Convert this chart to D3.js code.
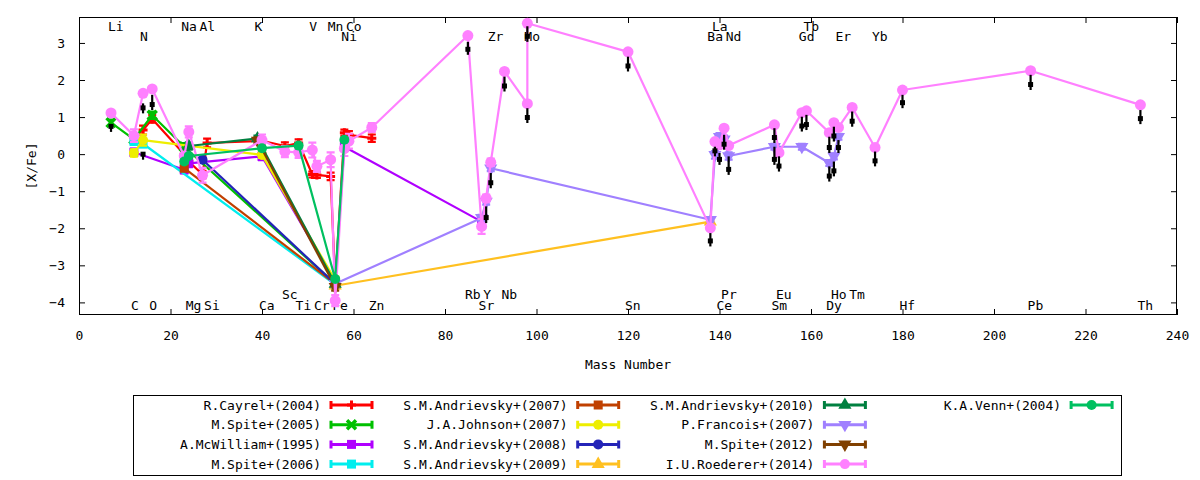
<!DOCTYPE html>
<html><head><meta charset="utf-8">
<script src="https://cdn.jsdelivr.net/npm/d3@7"></script>
<style>
body{margin:0;background:#fff}
text{font-family:"DejaVu Sans Mono",monospace;font-size:13px;fill:#000}
</style>
</head><body>
<svg id="c" width="1200" height="480"></svg>
<script>
// ---------- data: [mass number, [X/Fe], error] ----------
const cayrel = [[12,0.45,0.1],[14,0.65,0.12],[16,0.95,0.1],[23,0.0,0.1],[24,-0.2,0.1],[27,-0.55,0.1],[28,0.3,0.12],[40,0.36,0.08],[45,0.22,0.1],[48,0.3,0.1],[51,-0.55,0.08],[52,-0.56,0.08],[55,-0.6,0.1],[56,-3.5,0.1],[58,0.58,0.08],[59,0.52,0.1],[64,0.43,0.1]];
const spite05 = [[7,0.85,0.08],[12,0.4,0.1],[16,1.05,0.1],[23,0.2,0.1],[56,-3.5,0.1]];
const mcwilliam = [[12,0.05,0.1],[23,-0.42,0.1],[24,-0.25,0.1],[40,-0.06,0.1],[56,-3.45,0.1],[58,0.2,0.1],[88,-1.82,0.1]];
const spite06 = [[12,0.35,0.1],[14,0.28,0.1],[56,-3.52,0.1]];
const andr07 = [[23,-0.38,0.08],[56,-3.5,0.1]];
const johnson = [[12,0.03,0.1],[14,0.38,0.15],[40,-0.02,0.08],[56,-3.4,0.1]];
const andr08 = [[27,-0.15,0.05],[56,-3.5,0.1]];
const andr09 = [[56,-3.55,0.1],[138,-1.82,0.05]];
const andr10 = [[24,0.22,0.1],[39,0.42,0.08],[56,-3.5,0.1]];
const francois = [[56,-3.5,0.1],[88,-1.72,0.08],[89,-1.28,0.08],[90,-0.38,0.08],[138,-1.77,0.05],[139,-0.02,0.1],[140,0.47,0.1],[141,0.4,0.1],[142,-0.05,0.1],[152,0.2,0.08],[158,0.2,0.08],[164,-0.24,0.08],[165,-0.06,0.08],[166,0.47,0.08]];
const spite12 = [[39,0.37,0.08],[56,-3.58,0.1]];
const roederer = [[7,1.11,0.05],[12,0.5,0.17],[14,1.64,0.05],[16,1.76,0.05],[23,-0.05,0.05],[24,0.6,0.15],[27,-0.57,0.2],[40,0.38,0.15],[45,0.07,0.15],[48,0.05,0.15],[51,0.11,0.2],[52,-0.33,0.15],[55,-0.15,0.2],[56,-3.95,0.15],[58,0.15,0.2],[59,0.35,0.2],[64,0.72,0.12],[85,3.2,0],[88,-1.95,0.2],[89,-1.19,0.1],[90,-0.22,0.1],[93,2.23,0],[98,1.36,0],[98,3.53,0],[120,2.76,0],[138,-1.99,0.05],[139,0.34,0],[140,0.25,0],[141,0.7,0],[142,0.23,0],[152,0.79,0],[153,0.04,0],[158,1.12,0],[159,1.17,0],[164,0.58,0],[165,0.85,0],[166,0.72,0],[169,1.26,0],[174,0.18,0],[180,1.73,0],[208,2.25,0],[232,1.33,0]];
const venn = [[23,-0.2,0.05],[24,-0.05,0.05],[40,0.16,0.05],[48,0.23,0.05],[56,-3.37,0.05],[58,0.39,0.05]];

// upper limits: [mass number, top, bottom]
const limits = [[7,0.78,0.6],[14,1.37,1.1],[14,0.03,-0.15],[16,1.6,1.19],[85,3.03,2.68],[89,-1.41,-1.86],[90,-0.51,-0.92],[93,2.09,1.69],[98,3.45,3.03],[98,1.24,0.84],[120,2.63,2.23],[138,-2.13,-2.49],[139,0.2,-0.06],[140,0.03,-0.29],[141,0.52,0.12],[142,-0.06,-0.56],[152,0.7,0.3],[152,0.2,-0.29],[153,-0.06,-0.47],[158,1.01,0.61],[159,1.06,0.65],[164,0.47,0.03],[164,-0.33,-0.74],[165,0.74,0.34],[165,-0.2,-0.6],[166,0.38,0.03],[169,1.15,0.74],[174,0.07,-0.33],[180,1.6,1.24],[208,2.14,1.73],[232,1.19,0.81]];

const seriesNames = ["R.Cayrel+(2004)","M.Spite+(2005)","A.McWilliam+(1995)","M.Spite+(2006)","S.M.Andrievsky+(2007)","J.A.Johnson+(2007)","S.M.Andrievsky+(2008)","S.M.Andrievsky+(2009)","S.M.Andrievsky+(2010)","P.Francois+(2007)","M.Spite+(2012)","I.U.Roederer+(2014)","K.A.Venn+(2004)"];
const seriesData = [cayrel,spite05,mcwilliam,spite06,andr07,johnson,andr08,andr09,andr10,francois,spite12,roederer,venn];

// element labels [symbol, mass number]
const labelsTop1 = [["Li",7],["Na",23],["Al",27],["K",39],["V",51],["Mn",55],["Co",59],["La",139],["Tb",159]];
const labelsTop2 = [["N",14],["Ni",58],["Zr",90],["Mo",98],["Ba",138],["Nd",142],["Gd",158],["Er",166],["Yb",174]];
const labelsBot1 = [["Sc",45],["Rb",85],["Y",89],["Nb",93],["Pr",141],["Eu",153],["Ho",165],["Tm",169]];
const labelsBot2 = [["C",12],["O",16],["Mg",24],["Si",28],["Ca",40],["Ti",48],["Cr",52],["Fe",56],["Zn",64],["Sr",88],["Sn",120],["Ce",140],["Sm",152],["Dy",164],["Hf",180],["Pb",208],["Th",232]];

const xTickValues = [0,20,40,60,80,100,120,140,160,180,200,220,240];
const yTickValues = [-4,-3,-2,-1,0,1,2,3];

// ---------- styles ----------
const seriesColors = ["#ff0000","#00c000","#b000ff","#00eeee","#c04000","#eeee00","#2424b8","#ffc020","#008040","#a080ff","#804000","#ff80ff","#00c060"];
const seriesShapes = ["plus","x","square","square","square","circle","circle","tri","tri","tridown","tridown","circle","circle"];

const L=79,R=1177,T=17,B=315;
const svg = d3.select("#c");
const x = d3.scaleLinear().domain([0,240]).range([L,R]);
const y = d3.scaleLinear().domain([-4.34,3.7]).range([B,T]);

svg.append("defs").append("clipPath").attr("id","clip")
  .append("rect").attr("x",L).attr("y",T).attr("width",R-L).attr("height",B-T);

// axes
const ax = svg.append("g");
ax.append("g").attr("transform",`translate(0,${B})`)
  .call(d3.axisBottom(x).tickValues(xTickValues).tickSize(-6).tickPadding(16))
  .call(g=>g.select(".domain").remove());
ax.append("g").attr("transform",`translate(0,${T})`)
  .call(d3.axisTop(x).tickValues(xTickValues).tickSize(-6).tickFormat(""))
  .call(g=>g.select(".domain").remove());
ax.append("g").attr("transform",`translate(${L},0)`)
  .call(d3.axisLeft(y).tickValues(yTickValues).tickSize(-6).tickPadding(14))
  .call(g=>g.select(".domain").remove());
ax.append("g").attr("transform",`translate(${R},0)`)
  .call(d3.axisRight(y).tickValues(yTickValues).tickSize(-6).tickFormat(""))
  .call(g=>g.select(".domain").remove());
ax.selectAll("text").style("font-family","DejaVu Sans Mono").style("font-size","13px");
ax.selectAll("line").attr("stroke","#000");

svg.append("rect").attr("x",L+0.5).attr("y",T+0.5).attr("width",R-L-1).attr("height",B-T-1)
  .attr("fill","none").attr("stroke","#000").attr("stroke-width",1);

svg.append("text").attr("x",(L+R)/2).attr("y",369).attr("text-anchor","middle").text("Mass Number");
svg.append("text").attr("transform","translate(36,166) rotate(-90)").attr("text-anchor","middle").text("[X/Fe]");

// element labels
const lab = svg.append("g");
function addLabels(arr, yy){
  lab.selectAll(null).data(arr).enter().append("text")
    .attr("x",d=>x(d[1])-3).attr("y",yy).text(d=>d[0]);
}
addLabels(labelsTop1, T+14);
addLabels(labelsTop2, T+23.5);
addLabels(labelsBot1, B-16.5);
addLabels(labelsBot2, B-5);

// marker drawing
function marker(g, shape, color, cx, cy, big){
  const s = big ? 1.1 : 1;
  if(shape==="plus"){
    g.append("path").attr("d",`M${cx-4.5},${cy}H${cx+4.5}M${cx},${cy-4.5}V${cy+4.5}`)
      .attr("stroke",color).attr("stroke-width",3).attr("fill","none");
  } else if(shape==="x"){
    g.append("path").attr("d",`M${cx-4.5},${cy-4.5}L${cx+4.5},${cy+4.5}M${cx-4.5},${cy+4.5}L${cx+4.5},${cy-4.5}`)
      .attr("stroke",color).attr("stroke-width",3.5).attr("fill","none");
  } else if(shape==="square"){
    g.append("rect").attr("x",cx-4.5).attr("y",cy-4.5).attr("width",9).attr("height",9).attr("fill",color);
  } else if(shape==="circle"){
    g.append("circle").attr("cx",cx).attr("cy",cy).attr("r",5*s).attr("fill",color);
  } else if(shape==="tri"){
    g.append("path").attr("d",d3.symbol(d3.symbolTriangle,75)()).attr("transform",`translate(${cx},${cy})`).attr("fill",color);
  } else if(shape==="tridown"){
    g.append("path").attr("d",d3.symbol(d3.symbolTriangle,75)()).attr("transform",`translate(${cx},${cy}) rotate(180)`).attr("fill",color);
  }
}

// series
const plot = svg.append("g").attr("clip-path","url(#clip)");
const line = d3.line().x(d=>x(d[0])).y(d=>y(d[1]));
seriesData.forEach((data,i)=>{
  const col = seriesColors[i];
  const g = plot.append("g");
  g.append("path").datum(data).attr("d",line).attr("fill","none")
    .attr("stroke",col).attr("stroke-width",2.2).attr("stroke-linejoin","round");
  data.forEach(d=>{
    if(d[2]>0){
      const px=x(d[0]), y1=y(d[1]+d[2]), y2=y(d[1]-d[2]);
      g.append("path").attr("d",`M${px},${y1}V${y2}M${px-4},${y1}H${px+4}M${px-4},${y2}H${px+4}`)
        .attr("stroke",col).attr("stroke-width",2.2).attr("fill","none");
    }
  });
  data.forEach(d=>marker(g, seriesShapes[i], col, x(d[0]), y(d[1]), i===11));
});

// upper-limit arrows
const lim = plot.append("g");
limits.forEach(d=>{
  const px=x(d[0]), yt=y(d[1]), yb=y(d[2]);
  lim.append("line").attr("x1",px).attr("x2",px).attr("y1",yt).attr("y2",yb)
    .attr("stroke","#000").attr("stroke-width",2.2);
  lim.append("rect").attr("x",px-2.5).attr("y",yb-8).attr("width",5).attr("height",5).attr("fill","#000");
});

// legend
const lg = svg.append("g");
lg.append("rect").attr("x",133.5).attr("y",395.5).attr("width",988).attr("height",80)
  .attr("fill","none").attr("stroke","#000").attr("stroke-width",1);
seriesNames.forEach((name,i)=>{
  const col=Math.floor(i/4), row=i%4;
  const te = 321 + col*246.7;
  const cy = 405 + row*19.7;
  const x1 = te+9, x2 = x1+43;
  lg.append("text").attr("x",te).attr("y",cy+4.5).attr("text-anchor","end").text(name);
  lg.append("path").attr("d",`M${x1},${cy}H${x2}M${x1+1},${cy-4}V${cy+4}M${x2-1},${cy-4}V${cy+4}`)
    .attr("stroke",seriesColors[i]).attr("stroke-width",3).attr("fill","none");
  marker(lg, seriesShapes[i], seriesColors[i], (x1+x2)/2, cy, false);
});
</script>
</body></html>
